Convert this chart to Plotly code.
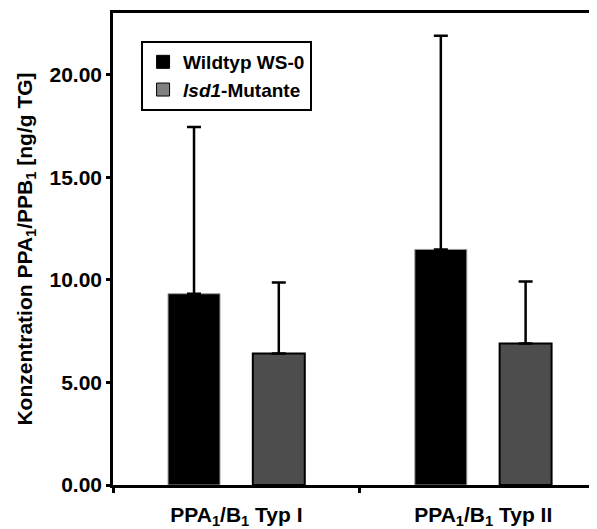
import plotly.graph_objects as go

categories = ["PPA<sub>1</sub>/B<sub>1</sub> Typ I", "PPA<sub>1</sub>/B<sub>1</sub> Typ II"]
series_names = ["Wildtyp WS-0", "<i>lsd1</i>-Mutante"]
wildtyp_values = [9.32, 11.48]
wildtyp_errors = [8.13, 10.41]
mutant_values = [6.41, 6.89]
mutant_errors = [3.46, 3.03]
y_tick_values = [0, 5, 10, 15, 20]

FONT = "Liberation Sans, Arial, sans-serif"

fig = go.Figure()
fig.add_trace(go.Bar(
    x=categories, y=wildtyp_values, name=series_names[0], showlegend=False,
    marker=dict(color="#000000", line=dict(color="#9a9a9a", width=1)),
    error_y=dict(type="data", array=wildtyp_errors, symmetric=False, arrayminus=[0, 0],
                 color="#000000", thickness=2.5, width=7),
))
fig.add_trace(go.Bar(
    x=categories, y=mutant_values, name=series_names[1], showlegend=False,
    marker=dict(color="#4d4d4d", line=dict(color="#000000", width=2)),
    error_y=dict(type="data", array=mutant_errors, symmetric=False, arrayminus=[0, 0],
                 color="#000000", thickness=2.5, width=7),
))
# legend entries
fig.add_trace(go.Scatter(
    x=[None], y=[None], mode="markers", name=series_names[0],
    marker=dict(symbol="square", size=13, color="#000000", line=dict(color="#000000", width=1)),
))
fig.add_trace(go.Scatter(
    x=[None], y=[None], mode="markers", name=series_names[1],
    marker=dict(symbol="square", size=13, color="#808080", line=dict(color="#000000", width=1)),
))

# page body has an 8px margin, so the figure is smaller and shifted
fig.update_layout(
    width=589, height=521,
    margin=dict(l=105, r=0, t=5, b=44, autoexpand=False),
    paper_bgcolor="white", plot_bgcolor="white",
    font=dict(family=FONT, size=20, color="#000000", weight="bold"),
    barmode="group", bargap=0.313, bargroupgap=0.387,
    showlegend=True,
    legend=dict(
        x=0.058, y=0.9407, xanchor="left", yanchor="top",
        bordercolor="#000000", borderwidth=2, bgcolor="white",
        font=dict(family=FONT, size=19, color="#000000", weight="bold"),
        tracegroupgap=0, itemwidth=30,
    ),
)
fig.update_xaxes(
    type="category", range=[-0.5, 1.461],
    showline=True, linecolor="#000000", linewidth=2.5, mirror=True,
    ticks="outside", tickson="boundaries", ticklen=5, tickwidth=2.5, tickcolor="#000000",
    tickfont=dict(family=FONT, size=21, color="#000000", weight="bold"),
    ticklabelstandoff=9,
    showgrid=False, zeroline=False,
)
fig.update_yaxes(
    range=[0, 23], tickvals=y_tick_values, tickformat=".2f",
    showline=True, linecolor="#000000", linewidth=2.5, mirror=False,
    ticks="outside", ticklen=4, tickwidth=2.5, tickcolor="#000000",
    tickfont=dict(family=FONT, size=21, color="#000000", weight="bold"),
    showgrid=False, zeroline=False,
    title=dict(text="Konzentration PPA<sub>1</sub>/PPB<sub>1</sub> [ng/g TG]",
               font=dict(family=FONT, size=21, color="#000000", weight="bold"),
               standoff=12),
)

fig.write_html("out.html")
